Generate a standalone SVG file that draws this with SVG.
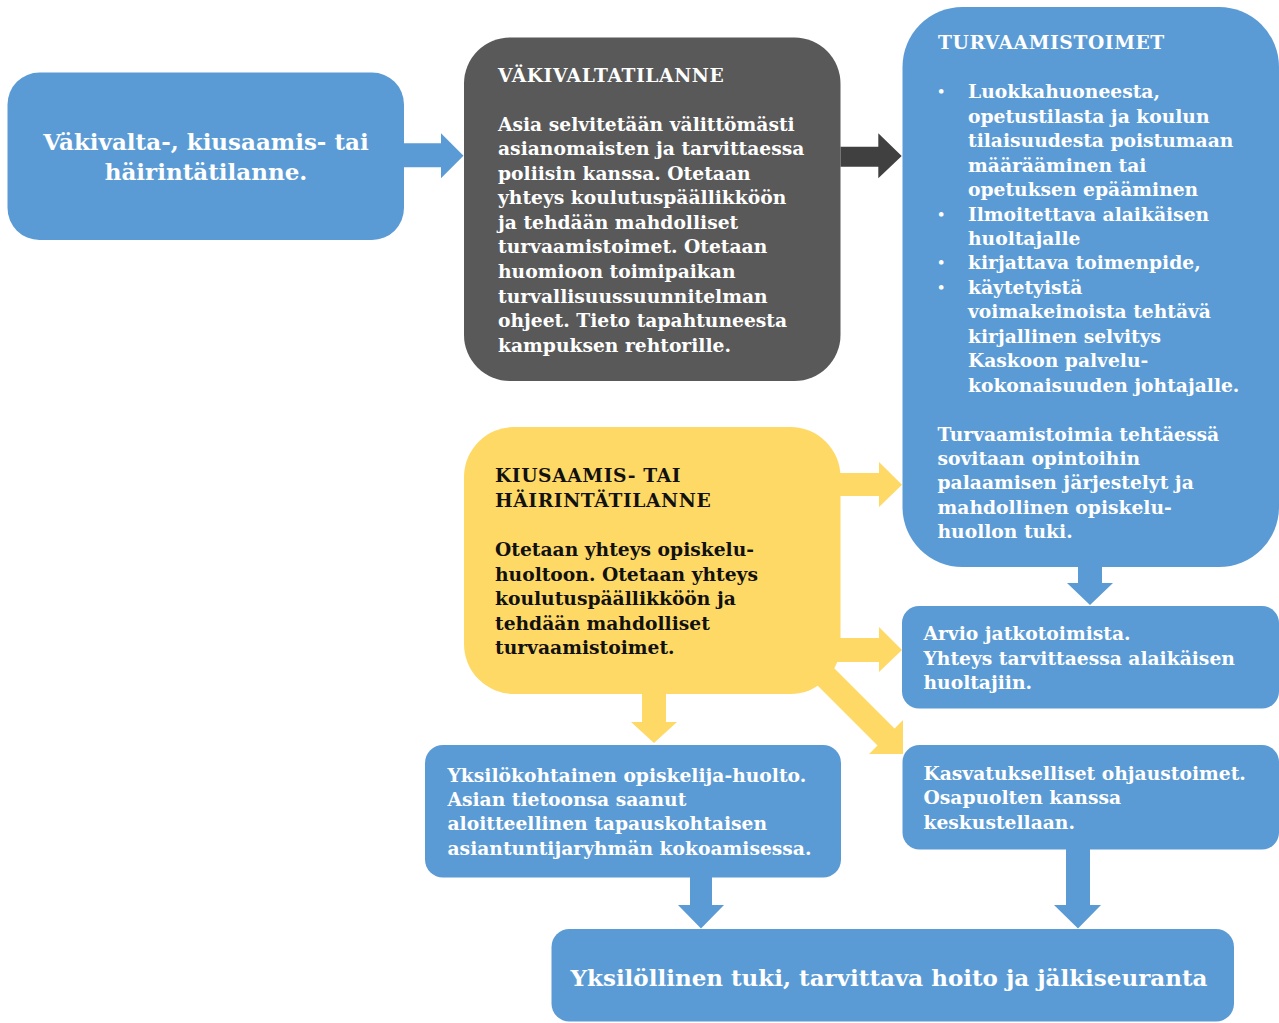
<svg xmlns="http://www.w3.org/2000/svg" width="1279" height="1023" viewBox="0 0 1279 1023">
<style>
.blue{fill:#5B9BD5}
.dark{fill:#595959}
.yel{fill:#FFD966}
.t{font-family:"DejaVu Serif","Liberation Serif",serif;font-weight:bold;font-size:18.7px;fill:#ffffff}
.k{fill:#111111}
.ttl{letter-spacing:0.6px}
.big{font-size:23px}
.bul{font-size:13px}
.cb{fill:#5B9BD5}
.cd{fill:#404040}
.cy{fill:#FFD966}
</style>
<rect width="1279" height="1023" fill="#ffffff"/>
<g id="node-start">
<rect class="blue" x="7.5" y="72.5" width="396.5" height="167.5" rx="32"/>
<text class="t big" text-anchor="middle"><tspan x="206" y="149.5">Väkivalta-, kiusaamis- tai</tspan><tspan x="206" y="179.5">häirintätilanne.</tspan></text>
</g>
<g id="node-vakivalta">
<rect class="dark" x="464" y="37.5" width="376.5" height="343.5" rx="46"/>
<text class="t"><tspan class="ttl" x="498" y="81.5">VÄKIVALTATILANNE</tspan><tspan x="498" y="130.5">Asia selvitetään välittömästi</tspan><tspan x="498" y="155">asianomaisten ja tarvittaessa</tspan><tspan x="498" y="179.5">poliisin kanssa. Otetaan</tspan><tspan x="498" y="204">yhteys koulutuspäällikköön</tspan><tspan x="498" y="228.5">ja tehdään mahdolliset</tspan><tspan x="498" y="253.2">turvaamistoimet. Otetaan</tspan><tspan x="498" y="277.8">huomioon toimipaikan</tspan><tspan x="498" y="302.5">turvallisuussuunnitelman</tspan><tspan x="498" y="327">ohjeet. Tieto tapahtuneesta</tspan><tspan x="498" y="351.7">kampuksen rehtorille.</tspan></text>
</g>
<g id="node-turvaamistoimet">
<rect class="blue" x="902.5" y="7" width="376.5" height="560" rx="60"/>
<text class="t"><tspan class="ttl" x="938" y="48.5">TURVAAMISTOIMET</tspan><tspan x="968" y="98.3">Luokkahuoneesta,</tspan><tspan x="968" y="122.7">opetustilasta ja koulun</tspan><tspan x="968" y="147">tilaisuudesta poistumaan</tspan><tspan x="968" y="171.5">määrääminen tai</tspan><tspan x="968" y="196">opetuksen epääminen</tspan><tspan x="968" y="220.5">Ilmoitettava alaikäisen</tspan><tspan x="968" y="245">huoltajalle</tspan><tspan x="968" y="269.3">kirjattava toimenpide,</tspan><tspan x="968" y="293.7">käytetyistä</tspan><tspan x="968" y="318.3">voimakeinoista tehtävä</tspan><tspan x="968" y="343">kirjallinen selvitys</tspan><tspan x="968" y="367.3">Kaskoon palvelu-</tspan><tspan x="968" y="391.7">kokonaisuuden johtajalle.</tspan><tspan x="937.5" y="440.7">Turvaamistoimia tehtäessä</tspan><tspan x="937.5" y="465">sovitaan opintoihin</tspan><tspan x="937.5" y="489.3">palaamisen järjestelyt ja</tspan><tspan x="937.5" y="513.5">mahdollinen opiskelu-</tspan><tspan x="937.5" y="538.3">huollon tuki.</tspan></text>
<text class="t bul"><tspan x="937" y="96">•</tspan><tspan x="937" y="218.5">•</tspan><tspan x="937" y="267">•</tspan><tspan x="937" y="291.5">•</tspan></text>
</g>
<g id="node-kiusaaminen">
<rect class="yel" x="464" y="427" width="376.5" height="267" rx="50"/>
<text class="t k"><tspan class="ttl" x="495" y="482.3">KIUSAAMIS- TAI</tspan><tspan class="ttl" x="495" y="507.3">HÄIRINTÄTILANNE</tspan><tspan x="495" y="556">Otetaan yhteys opiskelu-</tspan><tspan x="495" y="580.7">huoltoon. Otetaan yhteys</tspan><tspan x="495" y="605">koulutuspäällikköön ja</tspan><tspan x="495" y="629.5">tehdään mahdolliset</tspan><tspan x="495" y="654">turvaamistoimet.</tspan></text>
</g>
<g id="node-arvio">
<rect class="blue" x="902" y="606" width="377" height="102.5" rx="17"/>
<text class="t"><tspan x="923.5" y="640">Arvio jatkotoimista.</tspan><tspan x="923.5" y="665">Yhteys tarvittaessa alaikäisen</tspan><tspan x="923.5" y="689.3">huoltajiin.</tspan></text>
</g>
<g id="node-yksilokohtainen">
<rect class="blue" x="425" y="745" width="416" height="132.5" rx="18"/>
<text class="t"><tspan x="447.5" y="781.5">Yksilökohtainen opiskelija-huolto.</tspan><tspan x="447.5" y="806">Asian tietoonsa saanut</tspan><tspan x="447.5" y="830.3">aloitteellinen tapauskohtaisen</tspan><tspan x="447.5" y="854.7">asiantuntijaryhmän kokoamisessa.</tspan></text>
</g>
<g id="node-kasvatukselliset">
<rect class="blue" x="902.5" y="745" width="376.5" height="104.5" rx="17"/>
<text class="t"><tspan x="923.5" y="780">Kasvatukselliset ohjaustoimet.</tspan><tspan x="923.5" y="804.3">Osapuolten kanssa</tspan><tspan x="923.5" y="829.3">keskustellaan.</tspan></text>
</g>
<g id="node-tuki">
<rect class="blue" x="551.5" y="929" width="682.5" height="92.5" rx="18"/>
<text class="t big" text-anchor="middle" x="889" y="985.5">Yksilöllinen tuki, tarvittava hoito ja jälkiseuranta</text>
</g>
<g id="connectors">
<polygon class="cb" points="400,143.3 441,143.3 441,133.3 463.5,155.8 441,178.3 441,167.3 400,167.3"/>
<polygon class="cd" points="840.5,146.7 878.3,146.7 878.3,133.3 901.7,156 878.3,178.3 878.3,166.7 840.5,166.7"/>
<polygon class="cy" points="835,473 879,473 879,462 902,484.7 879,507 879,496 835,496"/>
<polygon class="cy" points="835,638 879,638 879,627 902,650 879,672 879,662 835,662"/>
<polygon class="cy" points="642,690 666,690 666,722 677,722 654,743 631,722 642,722"/>
<polygon class="cy" points="824.5,658.5 894.5,728.5 903,720 903,754 869,754 877.5,745.5 807.5,675.5"/>
<polygon class="cb" points="1078,563 1102,563 1102,583 1113,583 1090,605 1067,583 1078,583"/>
<polygon class="cb" points="690,873 712,873 712,905 724,905 701,928.5 678,905 690,905"/>
<polygon class="cb" points="1066,845 1090,845 1090,905 1101,905 1078,928.5 1054,905 1066,905"/>
</g>
</svg>
